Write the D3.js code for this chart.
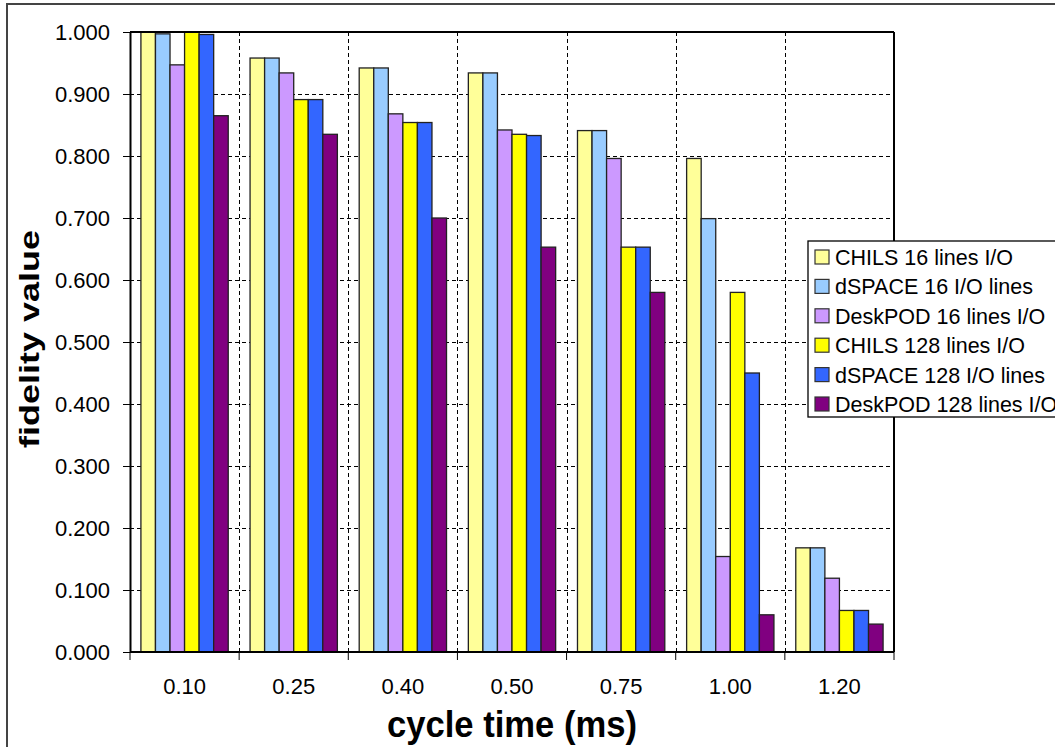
<!DOCTYPE html>
<html>
<head>
<meta charset="utf-8">
<script src="https://cdn.jsdelivr.net/npm/d3@7"></script>
<style>
  html, body { margin: 0; padding: 0; background: #fff; }
  svg { display: block; font-family: "Liberation Sans", Arial, sans-serif; }
</style>
</head>
<body>
<svg id="chart" width="1055" height="747"></svg>
<script>
// Cycle times on the x axis
const categories = ["0.10", "0.25", "0.40", "0.50", "0.75", "1.00", "1.20"];

// Fidelity per platform / I/O configuration
const seriesNames = [
  "CHILS 16 lines I/O",
  "dSPACE 16 I/O lines",
  "DeskPOD 16 lines I/O",
  "CHILS 128 lines I/O",
  "dSPACE 128 I/O lines",
  "DeskPOD 128 lines I/O"
];
const chils16    = [1.000, 0.958, 0.942, 0.934, 0.841, 0.796, 0.168];
const dspace16   = [0.997, 0.958, 0.942, 0.934, 0.841, 0.699, 0.168];
const deskpod16  = [0.947, 0.934, 0.868, 0.842, 0.796, 0.154, 0.119];
const chils128   = [1.000, 0.891, 0.854, 0.835, 0.653, 0.580, 0.067];
const dspace128  = [0.996, 0.891, 0.854, 0.833, 0.653, 0.450, 0.067];
const deskpod128 = [0.865, 0.835, 0.700, 0.653, 0.580, 0.060, 0.045];

const yTicks = [0, 0.1, 0.2, 0.3, 0.4, 0.5, 0.6, 0.7, 0.8, 0.9, 1.0];
const colors = ["#FFFF99", "#99CCFF", "#CC99FF", "#FFFF00", "#3366FF", "#800080"];

const seriesValues = [chils16, dspace16, deskpod16, chils128, dspace128, deskpod128];

const svg = d3.select("#chart");

// outer chart frame
svg.append("rect")
  .attr("x", 7).attr("y", 4)
  .attr("width", 1100).attr("height", 800)
  .attr("fill", "#fff").attr("stroke", "#444").attr("stroke-width", 2);

const plot = { left: 130, right: 894, top: 32, bottom: 652 };

const x0 = d3.scaleBand().domain(categories).range([plot.left, plot.right]).padding(0);
const bandInner = x0.bandwidth();
const x1 = d3.scaleBand().domain(d3.range(seriesNames.length))
  .range([bandInner * 0.1, bandInner * 0.9]).padding(0);
const y = d3.scaleLinear().domain([0, 1]).range([plot.bottom, plot.top]);

// dashed horizontal grid
svg.append("g").selectAll("line").data(yTicks.slice(1)).join("line")
  .attr("x1", plot.left).attr("x2", plot.right)
  .attr("y1", d => Math.round(y(d)) + 0.5).attr("y2", d => Math.round(y(d)) + 0.5)
  .attr("stroke", "#000").attr("stroke-width", 1).attr("stroke-dasharray", "4,3");

// dashed vertical grid at category boundaries
svg.append("g").selectAll("line").data(categories.slice(1)).join("line")
  .attr("x1", d => Math.round(x0(d)) + 0.5).attr("x2", d => Math.round(x0(d)) + 0.5)
  .attr("y1", plot.top).attr("y2", plot.bottom)
  .attr("stroke", "#000").attr("stroke-width", 1).attr("stroke-dasharray", "4,3");

// bars
const groups = svg.append("g").selectAll("g").data(categories).join("g")
  .attr("transform", d => `translate(${x0(d)},0)`);

groups.selectAll("rect")
  .data((c, ci) => seriesValues.map((vals, si) => ({ si, v: vals[ci] })))
  .join("rect")
  .attr("x", d => x1(d.si))
  .attr("y", d => y(d.v))
  .attr("width", x1.bandwidth())
  .attr("height", d => y(0) - y(d.v))
  .attr("fill", d => colors[d.si])
  .attr("stroke", "#222").attr("stroke-width", 1.3);

// plot border (top and right lines)
svg.append("line").attr("x1", plot.left).attr("x2", plot.right)
  .attr("y1", plot.top).attr("y2", plot.top).attr("stroke", "#000").attr("stroke-width", 2);
svg.append("line").attr("x1", plot.right).attr("x2", plot.right)
  .attr("y1", plot.top).attr("y2", plot.bottom).attr("stroke", "#000").attr("stroke-width", 2);

// y axis
const yAxis = d3.axisLeft(y).tickValues(yTicks).tickFormat(d3.format(".3f"))
  .tickSizeInner(7).tickSizeOuter(0).tickPadding(13);
const gy = svg.append("g").attr("transform", `translate(${plot.left},0)`).call(yAxis);
gy.select(".domain").attr("stroke", "#000").attr("stroke-width", 2);
gy.selectAll(".tick line").attr("stroke", "#000");
gy.selectAll(".tick text").attr("font-size", 22).attr("fill", "#000")
  .attr("font-family", "Liberation Sans, Arial, sans-serif");

// x axis: ticks at category boundaries, labels centred in bands
const boundaries = categories.map(c => x0(c)).concat([plot.right]);
const gx = svg.append("g");
gx.append("line").attr("x1", plot.left).attr("x2", plot.right)
  .attr("y1", plot.bottom).attr("y2", plot.bottom).attr("stroke", "#000").attr("stroke-width", 2);
gx.selectAll("line.tk").data(boundaries).join("line").attr("class", "tk")
  .attr("x1", d => d).attr("x2", d => d)
  .attr("y1", plot.bottom).attr("y2", plot.bottom + 8)
  .attr("stroke", "#000");
gx.selectAll("text").data(categories).join("text")
  .attr("x", d => x0(d) + bandInner / 2)
  .attr("y", 694)
  .attr("text-anchor", "middle")
  .attr("font-size", 22)
  .text(d => d);

// axis titles
svg.append("text")
  .attr("x", 512).attr("y", 737)
  .attr("text-anchor", "middle").attr("font-size", 37).attr("font-weight", "bold")
  .attr("textLength", 250).attr("lengthAdjust", "spacingAndGlyphs")
  .text("cycle time (ms)");
svg.append("text")
  .attr("transform", "translate(39,339) rotate(-90)")
  .attr("text-anchor", "middle").attr("font-size", 28).attr("font-weight", "bold")
  .attr("textLength", 218).attr("lengthAdjust", "spacingAndGlyphs")
  .text("fidelity value");

// legend (extends past the right edge of the chart frame)
const lg = svg.append("g").attr("transform", "translate(808,241)");
lg.append("rect").attr("x", 0).attr("y", 0).attr("width", 300).attr("height", 176)
  .attr("fill", "#fff").attr("stroke", "#000").attr("stroke-width", 1.3);
const rows = lg.selectAll("g").data(seriesNames).join("g")
  .attr("transform", (d, i) => `translate(0,${16 + i * 29.4})`);
rows.append("rect").attr("x", 7).attr("y", -7).attr("width", 14).attr("height", 14)
  .attr("fill", (d, i) => colors[i]).attr("stroke", "#333").attr("stroke-width", 1.2);
rows.append("text").attr("x", 27).attr("y", 8)
  .attr("font-size", 21.5).text(d => d);
</script>
</body>
</html>
